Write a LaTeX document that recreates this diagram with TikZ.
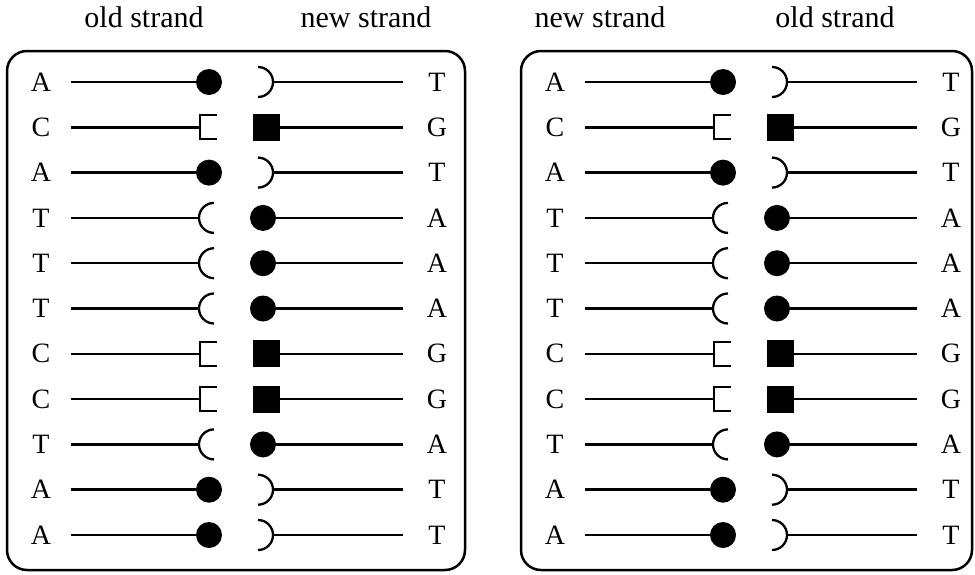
\documentclass[tikz,border=0pt]{standalone}
\usepackage{fontspec}
\setmainfont{Liberation Serif}

\tikzset{
  base/.style={font=\fontsize{28}{30}\selectfont, inner sep=0pt},
  heading/.style={font=\fontsize{30}{34}\selectfont, inner sep=0pt, anchor=base},
  panel/.style={line width=2.5pt, rounded corners=20pt},
  strand/.style={line width=2.5pt},
  groove/.style={line width=2.3pt},
  ball/.style={circle, fill=black, minimum size=26pt, inner sep=0pt},
  block/.style={rectangle, fill=black, minimum size=27pt, inner sep=0pt},
  %% A on the left, T on the right
  pics/pairAT/.style={code={
    \node[base] (-l) at (-195,0) {A};
    \node[base] (-r) at (201,0) {T};
    \coordinate (-s) at (-165,0);
    \coordinate (-e) at (167,0);
    \node[ball] (-k) at (-27,0) {};
    \coordinate (-h) at (37,0);
    \draw[strand] (-s) -- (-k);
    \draw[strand] (-h) -- (-e);
    \draw[groove] (-h) ++(-15,15) arc[start angle=90, end angle=-90, radius=15];
  }},
  %% T on the left, A on the right
  pics/pairTA/.style={code={
    \node[base] (-l) at (-195,0) {T};
    \node[base] (-r) at (201,0) {A};
    \coordinate (-s) at (-165,0);
    \coordinate (-e) at (167,0);
    \coordinate (-h) at (-37,0);
    \node[ball] (-k) at (27,0) {};
    \draw[strand] (-s) -- (-h);
    \draw[strand] (-k) -- (-e);
    \draw[groove] (-h) ++(15,15) arc[start angle=90, end angle=270, radius=15];
  }},
  %% C on the left, G on the right
  pics/pairCG/.style={code={
    \node[base] (-l) at (-195,0) {C};
    \node[base] (-r) at (201,0) {G};
    \coordinate (-s) at (-165,0);
    \coordinate (-e) at (167,0);
    \coordinate (-h) at (-36,0);
    \node[block] (-q) at (30,0) {};
    \draw[strand] (-s) -- (-h);
    \draw[strand] (-q) -- (-e);
    \draw[groove] (-h) ++(17,12) -- ++(-17,0) -- ++(0,-24) -- ++(17,0);
  }},
}

\begin{document}
\begin{tikzpicture}[x=1pt, y=1pt]

  \useasboundingbox (0,0) rectangle (975,-574);

  %% Headings
  \node[heading] (oldA) at (144,-27) {old strand};
  \node[heading] (newA) at (366,-27) {new strand};
  \node[heading] (newB) at (600,-27) {new strand};
  \node[heading] (oldB) at (835,-27) {old strand};

  %% Panels
  \draw[panel] (7,-51) rectangle (465,-570);
  \draw[panel] (521,-51) rectangle (972,-570);

  %% Base pairs
  \foreach \cx/\p in {236/a, 750/b} {
    \foreach \pair [count=\i from 0] in {AT,CG,AT,TA,TA,TA,CG,CG,TA,AT,AT}
      \pic (\p\i) at (\cx,{-82-45.3*\i}) {pair\pair};
  }

\end{tikzpicture}
\end{document}
